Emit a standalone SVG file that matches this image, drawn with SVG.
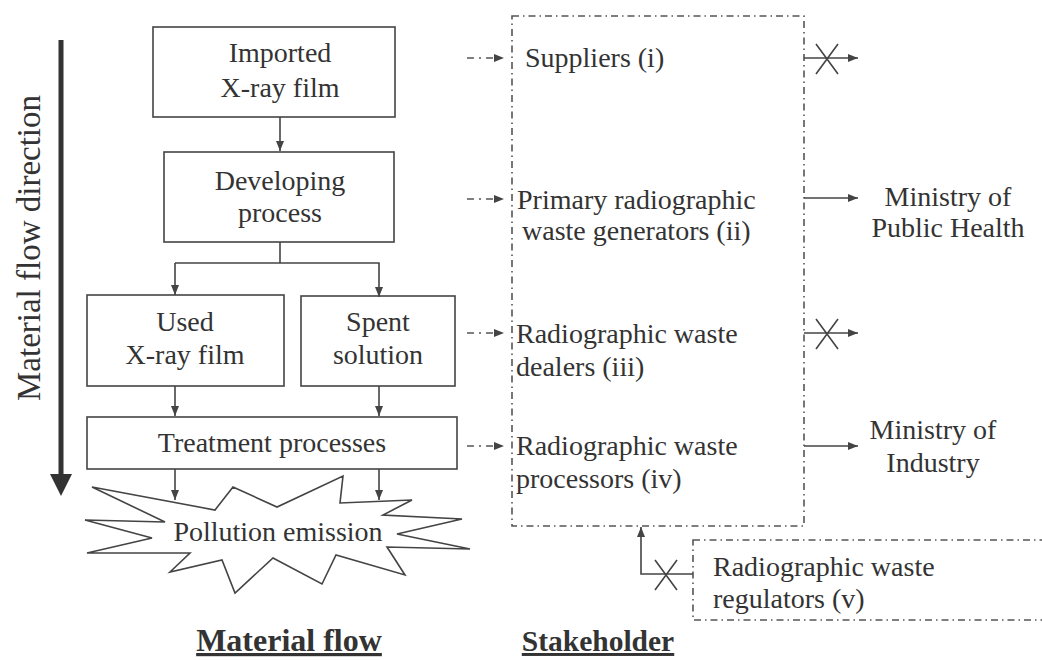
<svg xmlns="http://www.w3.org/2000/svg" width="1042" height="660" viewBox="0 0 1042 660">
<style>
text{font-family:"Liberation Serif","Times New Roman",serif;fill:#333;}
.t{font-size:28px;}
.c{text-anchor:middle;}
.box{fill:none;stroke:#444;stroke-width:1.6;}
.dd{fill:none;stroke:#555;stroke-width:1.6;stroke-dasharray:7 4 1.5 4;}
.ln{fill:none;stroke:#444;stroke-width:1.6;}
.da{fill:none;stroke:#555;stroke-width:1.6;stroke-dasharray:7 5 2 5;}
.title{font-weight:bold;text-decoration:underline;}
</style>
<defs>
<marker id="ah" viewBox="0 0 10 10" refX="10" refY="5" markerWidth="10" markerHeight="10" markerUnits="userSpaceOnUse" orient="auto">
<path d="M0,1 L10,5 L0,9 Z" fill="#444"/>
</marker>
</defs>

<g id="flow-direction">
<line x1="61" y1="40" x2="61" y2="478" stroke="#333" stroke-width="5"/>
<polygon points="50,474 72,474 61,496" fill="#333"/>
<text class="c" font-size="33" transform="translate(40,248) rotate(-90)">Material flow direction</text>
</g>

<g id="imported">
<rect class="box" x="153" y="27" width="242" height="90"/>
<text class="t c" x="280" y="62">Imported</text>
<text class="t c" x="280" y="97">X-ray film</text>
</g>
<g id="developing">
<rect class="box" x="164" y="152" width="230" height="90"/>
<text class="t c" x="280" y="190">Developing</text>
<text class="t c" x="280" y="222">process</text>
</g>
<g id="used-film">
<rect class="box" x="87" y="295" width="197" height="91"/>
<text class="t c" x="185" y="331">Used</text>
<text class="t c" x="185" y="364">X-ray film</text>
</g>
<g id="spent-solution">
<rect class="box" x="301" y="296" width="154" height="90"/>
<text class="t c" x="378" y="331">Spent</text>
<text class="t c" x="378" y="364">solution</text>
</g>
<g id="treatment">
<rect class="box" x="87" y="417" width="370" height="52"/>
<text class="t c" x="272" y="452">Treatment processes</text>
</g>
<g id="pollution">
<polygon class="box" points="92,487 215,510 233,487 277,507 343,476 340,503 412,500 383,515 462,519 397,534 470,549 387,547 405,575 336,555 322,584 273,558 235,593 222,560 170,572 190,553 87,553 152,538 85,520 165,522"/>
<text class="t c" x="278" y="541">Pollution emission</text>
</g>

<g id="stakeholder-box">
<rect class="dd" x="512" y="16" width="292" height="510"/>
</g>
<g id="suppliers"><text class="t" x="525" y="67">Suppliers (i)</text></g>
<g id="generators">
<text class="t" x="517" y="209">Primary radiographic</text>
<text class="t" x="522" y="240">waste generators (ii)</text>
</g>
<g id="dealers">
<text class="t" x="516" y="343">Radiographic waste</text>
<text class="t" x="516" y="376">dealers (iii)</text>
</g>
<g id="processors">
<text class="t" x="516" y="455">Radiographic waste</text>
<text class="t" x="516" y="488">processors (iv)</text>
</g>
<g id="ministry-health">
<text class="t c" x="948" y="206">Ministry of</text>
<text class="t c" x="948" y="237">Public Health</text>
</g>
<g id="ministry-industry">
<text class="t c" x="933" y="439">Ministry of</text>
<text class="t c" x="933" y="472">Industry</text>
</g>
<g id="regulators">
<rect class="dd" x="693" y="540" width="360" height="80"/>
<text class="t" x="713" y="576">Radiographic waste</text>
<text class="t" x="713" y="608">regulators (v)</text>
</g>

<g id="titles">
<text class="title c" font-size="32" x="289" y="651">Material flow</text>
<text class="title c" font-size="29.5" x="598" y="651">Stakeholder</text>
</g>

<g id="connectors">
<line class="ln" x1="280" y1="117" x2="280" y2="151" marker-end="url(#ah)"/>
<polyline class="ln" points="280,242 280,263"/>
<polyline class="ln" points="175,263 379,263 379,297" marker-end="url(#ah)"/>
<line class="ln" x1="175" y1="263" x2="175" y2="295" marker-end="url(#ah)"/>
<line class="ln" x1="175" y1="386" x2="175" y2="416" marker-end="url(#ah)"/>
<line class="ln" x1="379" y1="386" x2="379" y2="416" marker-end="url(#ah)"/>
<line class="ln" x1="175" y1="469" x2="175" y2="500" marker-end="url(#ah)"/>
<line class="ln" x1="379" y1="469" x2="379" y2="500" marker-end="url(#ah)"/>

<line class="da" x1="467" y1="58" x2="504" y2="58" marker-end="url(#ah)"/>
<line class="da" x1="467" y1="199" x2="504" y2="199" marker-end="url(#ah)"/>
<line class="da" x1="467" y1="333" x2="504" y2="333" marker-end="url(#ah)"/>
<line class="da" x1="467" y1="446" x2="504" y2="446" marker-end="url(#ah)"/>

<line class="ln" x1="804" y1="58" x2="858" y2="58" marker-end="url(#ah)"/>
<path class="ln" d="M816,44 L838,74 M816,74 L838,44"/>
<line class="ln" x1="804" y1="198" x2="858" y2="198" marker-end="url(#ah)"/>
<line class="ln" x1="804" y1="333" x2="858" y2="333" marker-end="url(#ah)"/>
<path class="ln" d="M816,319 L838,349 M816,349 L838,319"/>
<line class="ln" x1="804" y1="446" x2="858" y2="446" marker-end="url(#ah)"/>

<polyline class="ln" points="693,574 641,574 641,527" marker-end="url(#ah)"/>
<path class="ln" d="M655,560 L677,590 M655,590 L677,560"/>
</g>
</svg>
